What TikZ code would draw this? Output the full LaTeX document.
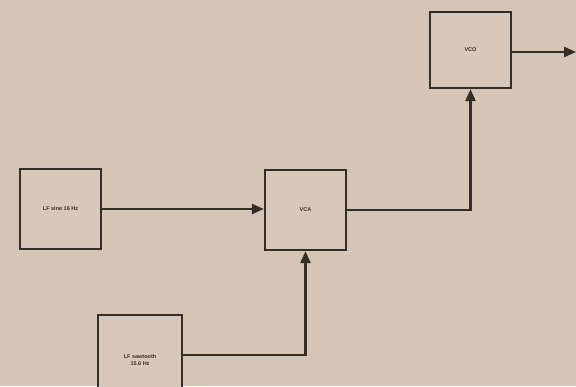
\documentclass[tikz,border=0pt]{standalone}
\usepackage{fontspec}
\setmainfont{Liberation Sans}
\usetikzlibrary{arrows.meta}
\definecolor{paper}{RGB}{212,197,181}
\definecolor{ink}{RGB}{52,46,40}
\begin{document}
\begin{tikzpicture}[x=1pt,y=-1pt,
  blockbox/.style={draw=ink,line width=2.2pt,fill=paper!94!white,inner sep=0pt,
    font=\fontsize{5.5}{6.5}\selectfont\bfseries,text=ink,align=center},
  link/.style={draw=ink,line width=2.2pt,-{Triangle[length=12pt,width=10pt]}}]
  \fill[paper] (0,0) rectangle (576,386);
  \useasboundingbox (0,0) rectangle (576,386);
  % signal blocks
  \node[blockbox,minimum width=81pt,minimum height=80pt] (sine) at (60.5,209) {LF sine 16 Hz};
  \node[blockbox,minimum width=81pt,minimum height=80pt] (vca) at (305.5,210) {VCA};
  \node[blockbox,minimum width=81pt,minimum height=76pt] (vco) at (470.5,50) {VCO};
  \node[blockbox,minimum width=84pt,minimum height=90pt,anchor=north] (saw) at (140,314) {LF sawtooth\\15.6 Hz};
  \coordinate (out) at (576,52);
  % connections
  \draw[link] (sine.east) -- (sine.east -| vca.west);
  \draw[link] (vca.east) -| (vco.south);
  \draw[link] (saw.east |- 0,355) -| (vca.south);
  \draw[link] (vco.east |- out) -- (out);
\end{tikzpicture}
\end{document}
